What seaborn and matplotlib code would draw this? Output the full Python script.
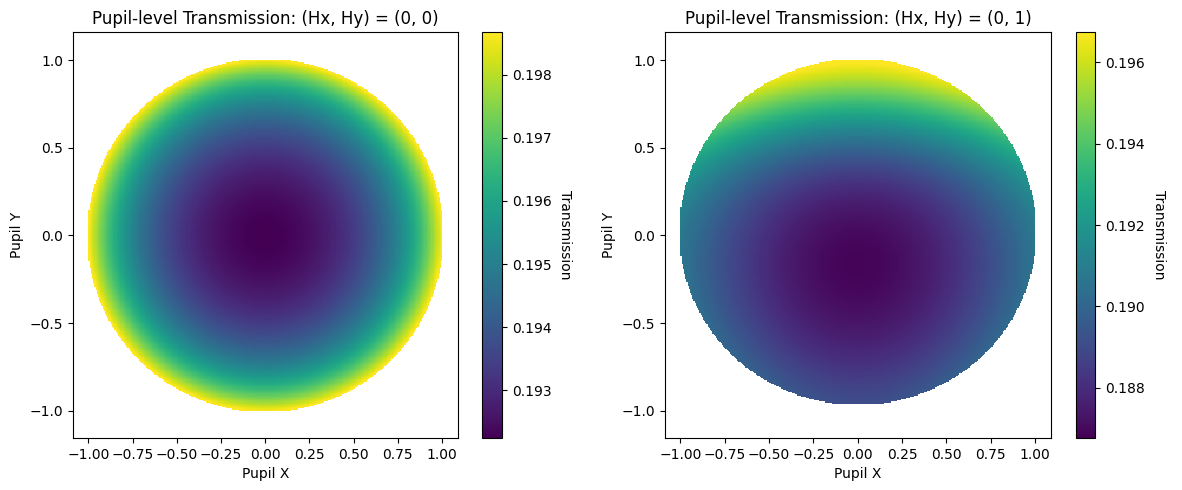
import numpy as np
import matplotlib
matplotlib.use("Agg")
import matplotlib.pyplot as plt
import seaborn as sns

# field points of the two panels
fields = [(0, 0), (0, 1)]

# (Hx, Hy) = (0, 0): radial transmission profile
r_samples = [0.0, 0.25, 0.5, 0.75, 0.9, 1.0]
t_radial = [0.19224, 0.19246, 0.19335, 0.19512, 0.19690, 0.19868]

# (Hx, Hy) = (0, 1): profile along pupil Y at x = 0 ...
y_samples = [-0.96, -0.82, -0.63, -0.45, -0.22, 0.12, 0.31, 0.45, 0.59, 0.72, 0.83, 0.94, 1.0]
t_yprofile = [0.18906, 0.18846, 0.18777, 0.18717, 0.18677, 0.18737, 0.18807,
              0.18946, 0.19126, 0.19275, 0.19475, 0.19624, 0.19674]
# ... and the extra amount going out along pupil X
x_samples = [0.0, 0.31, 0.5, 0.68, 0.87, 0.98]
t_xextra = [0.0, 0.0005, 0.0011, 0.0019, 0.0030, 0.0037]

# colorbar ranges
vlims = [(0.19224, 0.19868), (0.18677, 0.19674)]

cmap = sns.color_palette("viridis", as_cmap=True)

# pupil sampling grid (cell edges span -1..1)
n = 300
edges = np.linspace(-1, 1, n + 1)
g = 0.5 * (edges[:-1] + edges[1:])
X, Y = np.meshgrid(g, g)
rim = 1.0072  # traced pupil slightly overfills the unit square

# panel 1
R = np.sqrt(X**2 + Y**2)
c1 = np.polyfit(np.array(r_samples)**2, t_radial, 3)
T1 = np.polyval(c1, R**2)
T1[R > rim] = np.nan

# panel 2 (pupil slightly squashed in y)
cy = np.polyfit(y_samples, t_yprofile, 6)
cx = np.polyfit(np.array(x_samples)**2, t_xextra, 2)
T2 = np.polyval(cy, Y) + np.polyval(cx, X**2)
T2[(X**2 + ((Y - 0.02) / 0.98)**2 > rim**2) | (Y < -0.96)] = np.nan

fig = plt.figure(figsize=(11.82, 4.9), dpi=100)
ax_pos = [[0.0618, 0.1061, 0.3257, 0.8286], [0.5626, 0.1061, 0.3266, 0.8286]]
cb_pos = [[0.4078, 0.1061, 0.0169, 0.8286], [0.9101, 0.1061, 0.0165, 0.8286]]

for i, (field, T) in enumerate(zip(fields, [T1, T2])):
    ax = fig.add_axes(ax_pos[i])
    cax = fig.add_axes(cb_pos[i])
    mesh = ax.pcolormesh(edges, edges, T, cmap=cmap,
                         vmin=vlims[i][0], vmax=vlims[i][1])
    ax.set_xlim(-1.087, 1.09)
    ax.set_ylim(-1.155, 1.16)
    ax.set_title(f"Pupil-level Transmission: (Hx, Hy) = ({field[0]}, {field[1]})", fontsize=12)
    ax.set_xlabel("Pupil X")
    ax.set_ylabel("Pupil Y")
    cb = fig.colorbar(mesh, cax=cax)
    cb.set_label("Transmission", rotation=270, labelpad=15)

fig.savefig("out.png", dpi=100)
